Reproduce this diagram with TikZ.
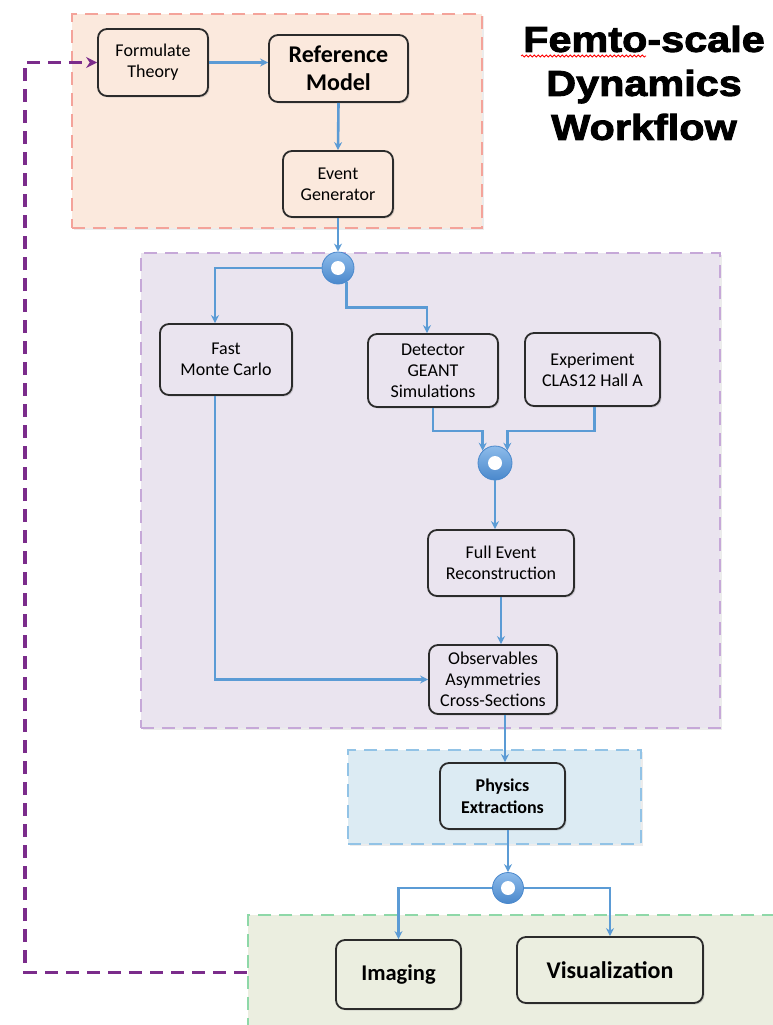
\documentclass[tikz,border=0pt]{standalone}
\usepackage{fontspec}
\setmainfont{Carlito}
\newfontfamily\titlefont[FakeStretch=1.15,FakeBold=2.5]{Liberation Sans}
\usetikzlibrary{arrows.meta,shadows,decorations.pathmorphing,calc}
\definecolor{rfill}{HTML}{FBE9DD}
\definecolor{rline}{HTML}{F4A39A}
\definecolor{pfill}{HTML}{EAE4EF}
\definecolor{pline}{HTML}{C6A8D8}
\definecolor{bfill}{HTML}{DCEBF3}
\definecolor{bline}{HTML}{92C3E6}
\definecolor{gfill}{HTML}{EBEEE0}
\definecolor{gline}{HTML}{8ED8A8}
\definecolor{boxline}{HTML}{2B2B2B}
\definecolor{ablue}{HTML}{5B9BD5}
\definecolor{ctop}{HTML}{8DBBEA}
\definecolor{cbot}{HTML}{4A88CC}
\definecolor{fpurple}{HTML}{7B2C8B}
\begin{document}
\begin{tikzpicture}[x=1pt,y=-1pt,
  region/.style={rectangle, line width=2.6pt, dash pattern=on 13pt off 8pt, inner sep=0pt,
    drop shadow={opacity=0.15, shadow xshift=2pt, shadow yshift=-2pt}},
  box/.style={rectangle, rounded corners=9pt, draw=boxline, line width=1.8pt, align=center, inner sep=0pt,
    font=\fontsize{18}{21}\selectfont,
    drop shadow={opacity=0.25, shadow xshift=1.5pt, shadow yshift=-1.5pt}},
  bbox/.style={box, font=\bfseries\fontsize{24}{28}\selectfont},
  junction/.style={circle, minimum size=32pt, inner sep=0pt, top color=ctop, bottom color=cbot, draw=cbot, line width=0.8pt,
    path picture={\fill[white] (path picture bounding box.center) circle (7pt);}},
  arr/.style={draw=ablue, line width=2.6pt, -{Stealth[length=8pt,width=8pt]}},
  fb/.style={draw=fpurple, line width=3.2pt, dash pattern=on 13pt off 8pt, -{Stealth[length=11pt,width=11pt]}}
]
\useasboundingbox (0,0) rectangle (772,1025);
% regions
\node[region, fill=rfill, draw=rline, minimum width=410pt, minimum height=214pt] (zr) at (277,121) {};
\node[region, fill=pfill, draw=pline, minimum width=579pt, minimum height=475pt] (zp) at (430.5,490.5) {};
\node[region, fill=bfill, draw=bline, minimum width=293pt, minimum height=94pt] (zb) at (494.5,797) {};
\node[region, fill=gfill, draw=gline, minimum width=542pt, minimum height=115pt] (zg) at (519,972.5) {};
% title
\node[font=\titlefont\bfseries\fontsize{36}{44}\selectfont, align=center] (title) at (644,83) {Femto-scale\\Dynamics\\Workflow};
\draw[red, line width=0.8pt, decorate, decoration={snake, amplitude=1pt, segment length=4pt}] (521,56) -- (646,56);
% boxes
\node[box, fill=rfill, minimum width=110pt, minimum height=67pt] (ft) at (153,62.5) {Formulate\\Theory};
\node[bbox, fill=rfill, minimum width=139pt, minimum height=67pt] (rm) at (338.5,68.5) {Reference\\Model};
\node[box, fill=rfill, minimum width=110pt, minimum height=66pt] (eg) at (338,184) {Event\\Generator};
\node[junction] (c1) at (338,268) {};
\node[box, fill=pfill, minimum width=132pt, minimum height=71pt] (fmc) at (226,359.5) {Fast\\Monte Carlo};
\node[box, fill=pfill, minimum width=130pt, minimum height=73pt] (det) at (433,370.5) {Detector\\GEANT\\Simulations};
\node[box, fill=pfill, minimum width=135pt, minimum height=73pt] (exp) at (592.5,369.5) {Experiment\\CLAS12 Hall A};
\node[junction, minimum size=34pt] (c2) at (495,463) {};
\node[box, fill=pfill, minimum width=146pt, minimum height=66pt] (fer) at (501,563) {Full Event\\Reconstruction};
\node[box, fill=pfill, minimum width=128pt, minimum height=69pt] (obs) at (493,679.5) {Observables\\Asymmetries\\Cross-Sections};
\node[box, fill=bfill, minimum width=125pt, minimum height=66pt, font=\bfseries\fontsize{18}{22}\selectfont] (phy) at (502.5,796) {Physics\\Extractions};
\node[junction, minimum size=31pt] (c3) at (508,888) {};
\node[bbox, fill=gfill, minimum width=125pt, minimum height=69pt, font=\bfseries\fontsize{22.5}{26}\selectfont] (img) at (398.5,974.5) {Imaging};
\node[bbox, fill=gfill, minimum width=186pt, minimum height=66pt, font=\bfseries\fontsize{24}{26}\selectfont] (vis) at (610,970) {Visualization};
% connectors
\draw[arr] (ft.east) -- (rm.west |- ft.east);
\draw[arr] (rm.south) -- (eg.north);
\draw[arr] (eg.south) -- (c1.north);
\draw[arr] (c1.west) -| ([xshift=-11pt]fmc.north);
\draw[arr] (c1.-60) -- ++(0,25) -| ([xshift=-6pt]det.north);
\draw[arr] (det.south) -- ++(0,23) -| (c2.135);
\draw[arr] ([xshift=2pt]exp.south) -- ++(0,24) -| (c2.45);
\draw[arr] (c2.south) -- (c2.south |- fer.north);
\draw[arr] (fer.south) -- (fer.south |- obs.north);
\draw[arr] ([xshift=-11pt]fmc.south) |- (obs.west);
\draw[arr] ([xshift=12pt]obs.south) -- ([xshift=12pt]obs.south |- phy.north);
\draw[arr] (c3.north |- phy.south) -- (c3.north);
\draw[arr] (c3.west) -| (img.north);
\draw[arr] (c3.east) -| (vis.north);
% feedback
\coordinate (fbc) at (25,62.5);
\draw[fb] (zg.west) -| (fbc) -- (ft.west);
\end{tikzpicture}
\end{document}
